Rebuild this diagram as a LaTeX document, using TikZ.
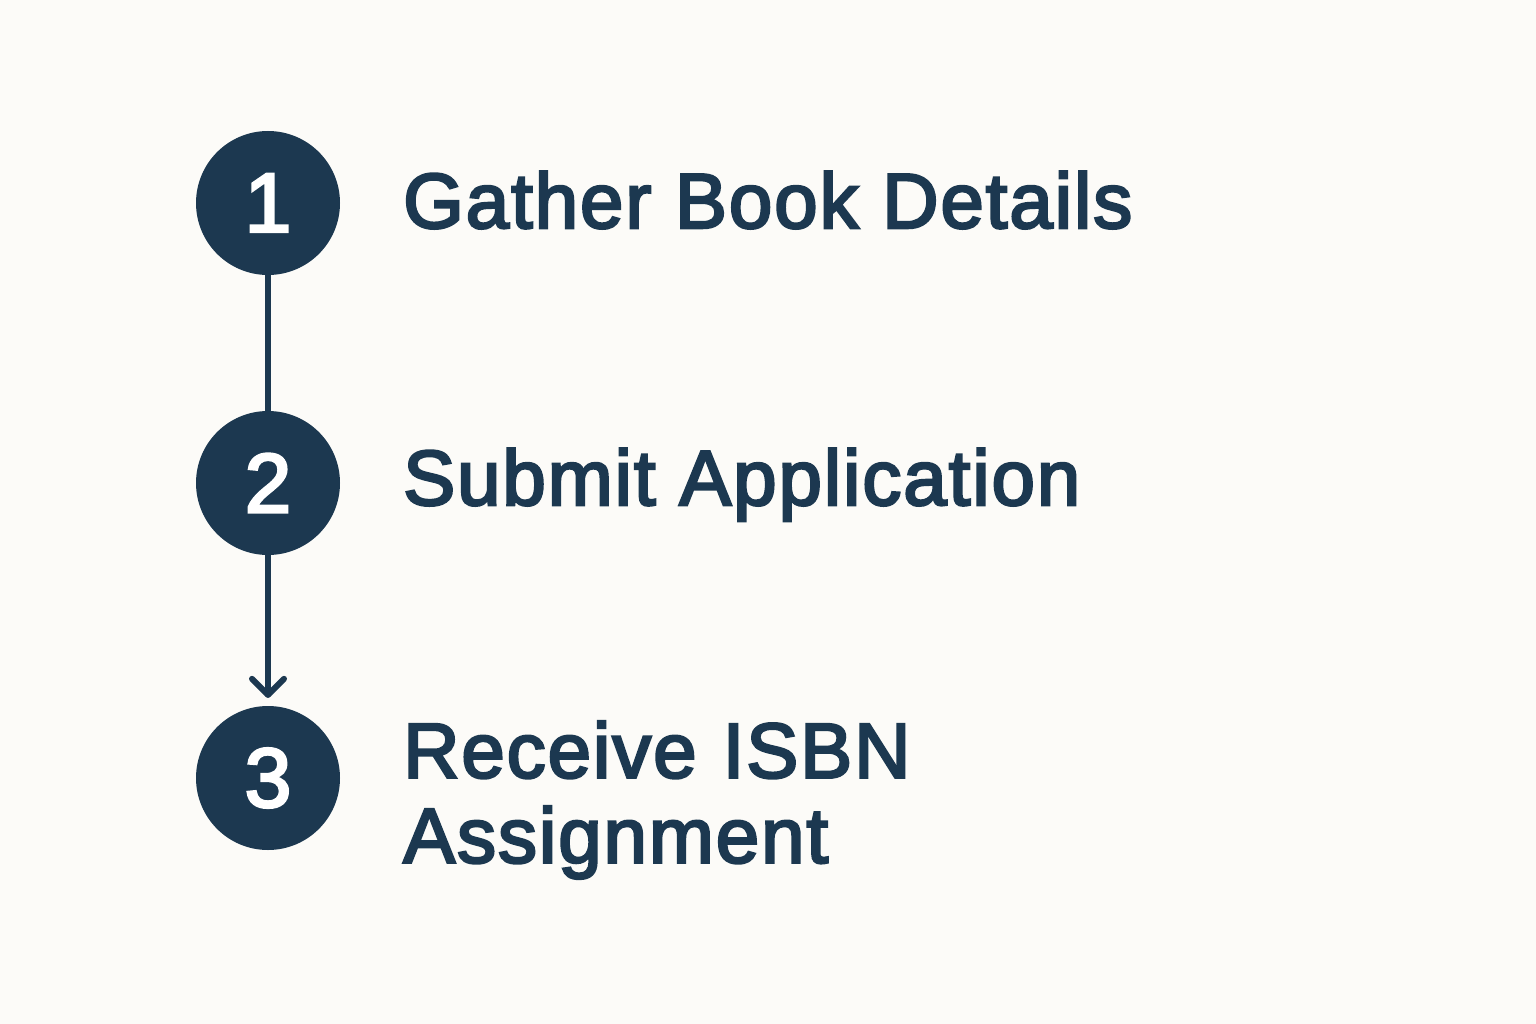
\documentclass[tikz,border=0pt]{standalone}
\usepackage{fontspec}
\setmainfont{Liberation Sans}
\newfontfamily\semib{Liberation Sans}[FakeBold=3.2,LetterSpace=2.5]
\newfontfamily\numf{Liberation Sans}[FakeBold=3.2]
\usetikzlibrary{calc}
\definecolor{navy}{HTML}{1C3850}
\definecolor{bg}{HTML}{FCFBF8}
\begin{document}
\begin{tikzpicture}[x=1pt,y=-1pt,
  stepcircle/.style={circle,fill=navy,minimum size=144pt,inner sep=0pt,text=white,font=\numf\fontsize{84}{84}\selectfont},
  label/.style={anchor=base west,text=navy,font=\semib\fontsize{78}{85}\selectfont,align=left,inner sep=0pt},
  conn/.style={draw=navy,line width=6pt,line cap=round,line join=round}]
\fill[bg] (0,0) rectangle (1536,1024);
\useasboundingbox (0,0) rectangle (1536,1024);
\node[stepcircle] (c1) at (268,203) {1};
\node[stepcircle] (c2) at (268,483) {2};
\node[stepcircle] (c3) at (268,778) {3};
\node[label] (t1) at (403,228) {Gather Book Details};
\node[label] (t2) at (403,505) {Submit Application};
\node[label,anchor=north west,text width=900pt] (t3) at (403,721) {Receive ISBN\\Assignment};
\coordinate (tip) at ($(c3.north)+(0,-11)$);
\draw[conn] (c1.south) -- (c2.north);
\draw[conn] (c2.south) -- (tip);
\draw[conn] ($(tip)+(-16,-16)$) -- (tip) -- ($(tip)+(16,-16)$);
\end{tikzpicture}
\end{document}
